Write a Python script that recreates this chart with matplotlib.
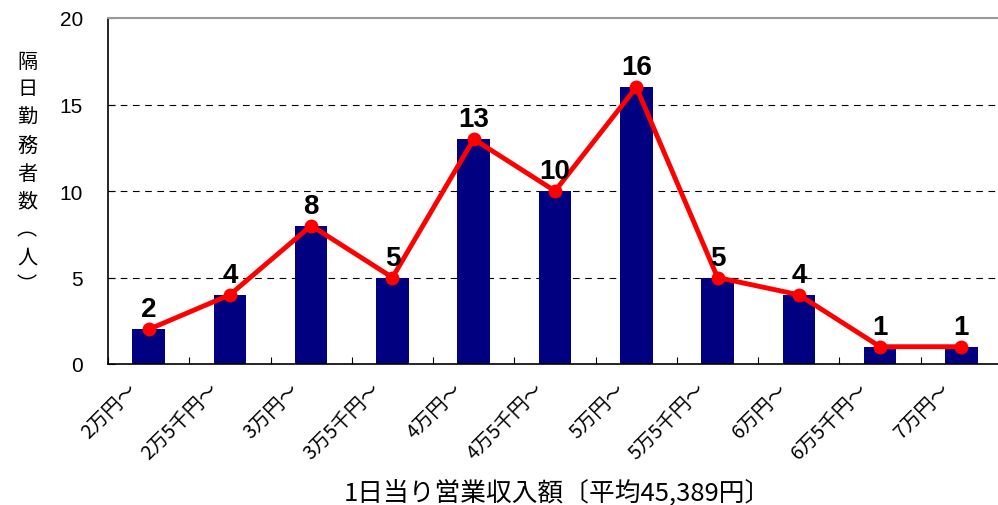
import matplotlib
matplotlib.use("Agg")
import matplotlib.pyplot as plt
import matplotlib.transforms as mtransforms
import numpy as np

categories = ["2万円～", "2万5千円～", "3万円～", "3万5千円～", "4万円～", "4万5千円～",
              "5万円～", "5万5千円～", "6万円～", "6万5千円～", "7万円～"]
counts = [2, 4, 8, 5, 13, 10, 16, 5, 4, 1, 1]
yticks = [0, 5, 10, 15, 20]
ylabel_chars = ["隔", "日", "勤", "務", "者", "数", "︵", "人", "︶"]
xlabel = "1日当り営業収入額〔平均45,389円〕"

plt.rcParams['font.family'] = ['Liberation Sans', 'Noto Sans CJK JP']

fig = plt.figure(figsize=(9.98, 5.06), dpi=100)
ax = fig.add_axes([108/998, 1-365/506, 894/998, 346/506])

x = np.arange(len(categories))
ax.bar(x, counts, width=0.4, color='#000080', zorder=2)
ax.plot(x, counts, color='#ff0000', lw=3.5, marker='o', ms=9, zorder=3)
for xi, v in zip(x, counts):
    ax.annotate(str(v), (xi, v), xytext=(0, 5), textcoords='offset points',
                ha='center', va='bottom', fontsize=20, fontweight='bold', color='black')

ax.set_xlim(-0.5, len(categories) - 0.5)
ax.set_ylim(0, 20)
ax.set_yticks(yticks)
ax.set_yticklabels([str(t) for t in yticks], fontsize=15)
for t in [5, 10, 15]:
    ax.axhline(t, color='black', lw=0.8, ls=(0, (6, 5)), zorder=1)

ax.set_xticks(x)
ax.set_xticklabels(categories, rotation=45, ha='right', va='top', rotation_mode='anchor',
                   fontsize=14, family=['Noto Sans CJK JP'])
ax.tick_params(axis='x', which='major', length=0, pad=10)
shift = mtransforms.ScaledTranslation(-22/100, 0, fig.dpi_scale_trans)
for lab in ax.get_xticklabels():
    lab.set_transform(lab.get_transform() + shift)
ax.set_xticks(np.arange(len(categories) + 1) - 0.5, minor=True)
ax.tick_params(axis='x', which='minor', direction='in', length=5, width=0.8)
ax.tick_params(axis='y', direction='in', length=5, width=0.8, pad=18)

ax.spines['right'].set_visible(False)
ax.spines['top'].set_color('#999999')
ax.spines['top'].set_linewidth(1.5)
ax.spines['left'].set_linewidth(1.2)
ax.spines['bottom'].set_linewidth(1.2)

# vertical stacked y label
y_top = 62
step = 28
for i, ch in enumerate(ylabel_chars):
    fig.text(27/998, 1 - (y_top + i * step)/506, ch, ha='center', va='center',
             fontsize=14.5, family=['Noto Sans CJK JP'])

fig.text(557/998, 1 - 493/506, xlabel, ha='center', va='center', fontsize=18.5,
         family=['Noto Sans CJK JP'])

fig.savefig("out.png", dpi=100)
